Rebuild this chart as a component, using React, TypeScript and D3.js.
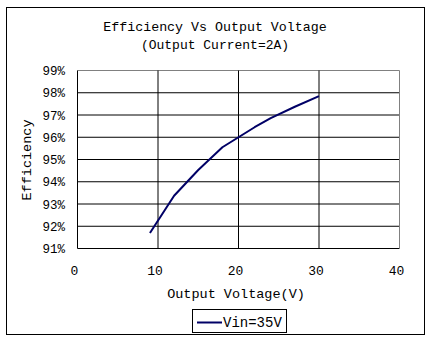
import React from "react";
import * as d3 from "d3";

const voltages = [9, 12, 15, 18, 20, 22, 24, 27, 30];
const efficiency = [91.7, 93.37, 94.53, 95.55, 96.0, 96.45, 96.86, 97.37, 97.85];
const xTicks = [0, 10, 20, 30, 40];
const yTicks = [91, 92, 93, 94, 95, 96, 97, 98, 99];
const seriesName = "Vin=35V";
const titleLines = ["Efficiency Vs Output Voltage", "(Output Current=2A)"];
const xTitle = "Output Voltage(V)";
const yTitle = "Efficiency";

const W = 429;
const H = 342;
const FONT = "'Liberation Mono', 'DejaVu Sans Mono', monospace";

export default function App() {
  const left = 77.5, right = 399.5, top = 70.5, bottom = 248.5;
  const x = d3.scaleLinear().domain([0, 40]).range([left, right]);
  const y = d3.scaleLinear().domain([91, 99]).range([bottom, top]);
  const line = d3
    .line<number>()
    .x((_, i) => x(voltages[i]))
    .y((d) => y(d))
    .curve(d3.curveLinear);

  return (
    <div style={{ position: "absolute", left: 0, top: 0 }}>
      <svg width={W} height={H} style={{ display: "block", background: "#fff" }}>
        <rect x={0} y={0} width={W} height={H} fill="#fff" />
        <rect x={6.5} y={7.5} width={418} height={327} fill="none" stroke="#000" strokeWidth={1} />
        <text x={215} y={31} textAnchor="middle" fontFamily={FONT} fontSize={13.3} fill="#000">
          {titleLines[0]}
        </text>
        <text x={215} y={49} textAnchor="middle" fontFamily={FONT} fontSize={13} fill="#000">
          {titleLines[1]}
        </text>
        {yTicks.map((t) => (
          <line key={"gy" + t} x1={left} x2={right} y1={y(t)} y2={y(t)} stroke={t === 99 ? "#808080" : "#000"} strokeWidth={1} />
        ))}
        {xTicks.map((t) => (
          <line key={"gx" + t} x1={x(t)} x2={x(t)} y1={top} y2={bottom} stroke={t === 40 ? "#808080" : "#000"} strokeWidth={1} />
        ))}
        {yTicks.map((t) => (
          <text key={"ty" + t} x={65} y={y(t) + 4.5} textAnchor="end" fontFamily={FONT} fontSize={12.5} fill="#000">
            {t + "%"}
          </text>
        ))}
        {xTicks.map((t) => (
          <text key={"tx" + t} x={x(t) - 3} y={275} textAnchor="middle" fontFamily={FONT} fontSize={13} fill="#000">
            {t}
          </text>
        ))}
        <path d={line(efficiency) || ""} fill="none" stroke="#000066" strokeWidth={2} strokeLinejoin="round" />
        <text x={236} y={298} textAnchor="middle" fontFamily={FONT} fontSize={13.5} fill="#000">
          {xTitle}
        </text>
        <text
          transform={`translate(31,160) rotate(-90)`}
          textAnchor="middle"
          fontFamily={FONT}
          fontSize={13.5}
          fill="#000"
        >
          {yTitle}
        </text>
        <rect x={192.5} y={309.5} width={94} height={23} fill="#fff" stroke="#000" strokeWidth={1} />
        <line x1={197} x2={222} y1={322.5} y2={322.5} stroke="#000066" strokeWidth={2} />
        <text x={223} y={327} fontFamily={FONT} fontSize={14} fill="#000">
          {seriesName}
        </text>
      </svg>
    </div>
  );
}
